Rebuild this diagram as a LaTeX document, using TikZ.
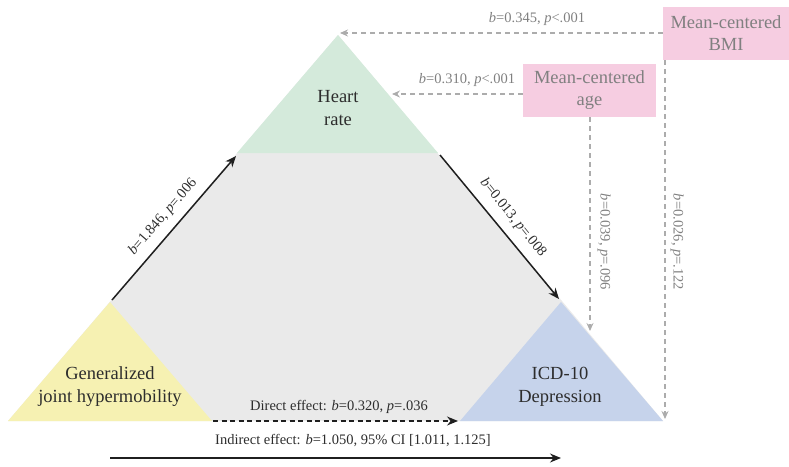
\documentclass[tikz,border=0pt]{standalone}
\usepackage{fontspec}
\setmainfont{Liberation Serif}
\usetikzlibrary{arrows.meta}
\definecolor{trigrey}{RGB}{234,234,234}
\definecolor{trigreen}{RGB}{212,234,219}
\definecolor{triyellow}{RGB}{246,241,178}
\definecolor{triblue}{RGB}{198,211,235}
\definecolor{boxpink}{RGB}{246,205,225}
\definecolor{txtgrey}{RGB}{128,128,128}
\definecolor{dashgrey}{RGB}{172,172,172}
\definecolor{txtdark}{RGB}{45,45,45}
\begin{document}
\begin{tikzpicture}[x=1pt,y=-1pt,
  blackarrow/.style={draw=black!88, line width=1.5pt, -{Stealth[length=11pt,width=9pt]}},
  blackdash/.style={blackarrow, dash pattern=on 5pt off 3.5pt},
  greyarrow/.style={draw=dashgrey, line width=1.1pt, dash pattern=on 5pt off 4pt, -{Stealth[length=8pt,width=7pt]}},
  lbl/.style={font=\fontsize{14.5}{16}\selectfont, text=txtgrey, inner sep=1pt},
  blbl/.style={font=\fontsize{14.5}{16}\selectfont, text=txtdark, inner sep=1pt},
  pinkbox/.style={fill=boxpink, text=txtgrey, font=\fontsize{18.5}{22}\selectfont, align=center, inner sep=0pt},
  tritext/.style={font=\fontsize{18.5}{23}\selectfont, text=txtdark, align=center}
]
\useasboundingbox (0,0) rectangle (789,466);
% big triangle and corners
\coordinate (A) at (338,35);
\coordinate (BL) at (8,421);
\coordinate (BR) at (663,421);
\fill[trigrey] (A) -- (BL) -- (BR) -- cycle;
\fill[trigreen] (A) -- (237,153) -- (438,153) -- cycle;
\fill[triyellow] (110,302) -- (8,421) -- (212,421) -- cycle;
\fill[triblue] (561,302) -- (460,421) -- (663,421) -- cycle;

% triangle texts
\node[tritext] (hr) at (338,108) {Heart\\rate};
\node[tritext] (gjh) at (110,387) {Generalized\\joint hypermobility};
\node[tritext] (dep) at (560,387) {ICD-10\\Depression};

% pink boxes
\node[pinkbox, minimum width=126pt, minimum height=53pt] (bmi) at (726,33.5) {Mean-centered\\BMI};
\node[pinkbox, minimum width=133pt, minimum height=53pt] (age) at (589.5,90.5) {Mean-centered\\age};

% anchor coordinates for connectors
\coordinate (gjhtop) at (112,300);
\coordinate (hrleft) at (236,156);
\coordinate (hrright) at (440,155);
\coordinate (deptop) at (559,299);
\coordinate (gjhright) at (213,421);
\coordinate (depleft) at (458,421);
\coordinate (indstart) at (110,458);
\coordinate (indend) at (561,458);
\coordinate (bmitip) at (340,33);
\coordinate (agetip) at (392,94);
\coordinate (agedown) at (590,331);
\coordinate (bmidown) at (665,419);

% black arrows
\draw[blackarrow] (gjhtop) -- (hrleft);
\draw[blackarrow] (hrright) -- (deptop);
\draw[blackdash] (gjhright) -- (depleft);
\draw[blackarrow] (indstart) -- (indend);

% grey dashed arrows
\draw[greyarrow] (bmi.west |- bmitip) -- (bmitip);
\draw[greyarrow] (age.west |- agetip) -- (agetip);
\draw[greyarrow] (agedown |- age.south) -- (agedown);
\draw[greyarrow] (bmidown |- bmi.south) -- (bmidown);

% labels
\node[blbl, rotate=49.2] (l1) at (163,217) {\textit{b}=1.846, \textit{p}=.006};
\node[blbl, rotate=-50.8] (l2) at (513,218) {\textit{b}=0.013, \textit{p}=.008};
\node[blbl] (l3) at (339,407) {Direct effect: \textit{b}=0.320, \textit{p}=.036};
\node[blbl] (l4) at (353,441) {Indirect effect: \textit{b}=1.050, 95\% CI [1.011, 1.125]};
\node[lbl] (l5) at (537,19) {\textit{b}=0.345, \textit{p}<.001};
\node[lbl] (l6) at (467,80) {\textit{b}=0.310, \textit{p}<.001};
\node[lbl, rotate=-90] (l7) at (604,242) {\textit{b}=0.039, \textit{p}=.096};
\node[lbl, rotate=-90] (l8) at (677,242) {\textit{b}=0.026, \textit{p}=.122};
\end{tikzpicture}
\end{document}
